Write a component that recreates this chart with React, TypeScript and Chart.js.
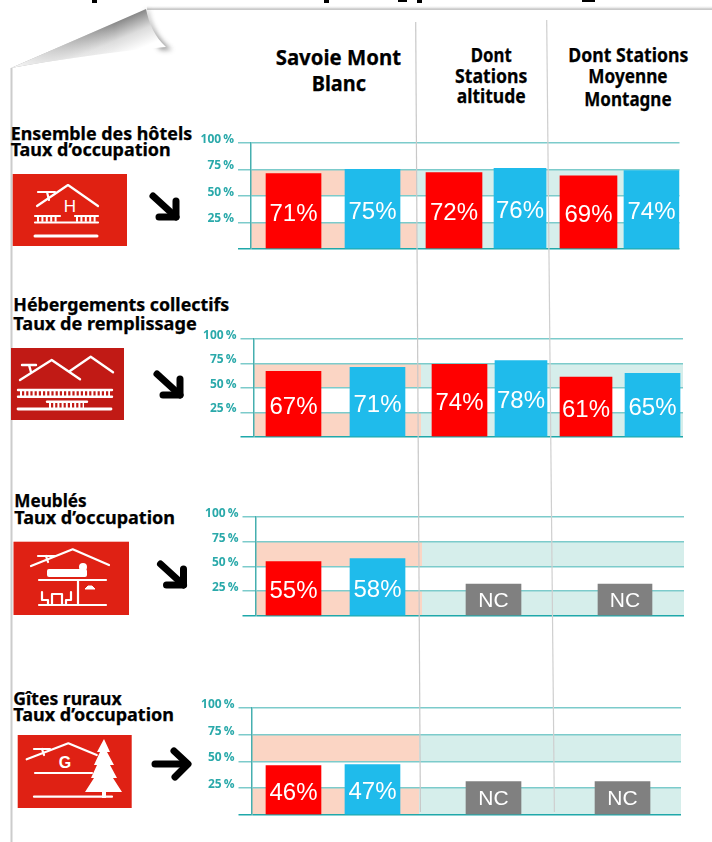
import React, { useEffect, useRef } from 'react';
import { Chart, registerables } from 'chart.js';

Chart.register(...registerables);

// ---------- data ----------
const categories = ['Savoie Mont Blanc', 'Dont Stations altitude', 'Dont Stations Moyenne Montagne'];
const yTickValues = [0, 25, 50, 75, 100];
const ncLabel = 'NC';

const hotelsRed = [71, 72, 69];
const hotelsBlue = [75, 76, 74];
const collectifsRed = [67, 74, 61];
const collectifsBlue = [71, 78, 65];
const meublesRed = [55, null, null];
const meublesBlue = [58, null, null];
const meublesNC = [null, 32, 32];
const gitesRed = [46, null, null];
const gitesBlue = [47, null, null];
const gitesNC = [null, 31, 31];

// ---------- style ----------
const RED = '#FF0000';
const BLUE = '#1FBBEB';
const GREY = '#808080';
const PEACH = '#FBD5C4';
const MINT = '#D6EEEB';
const GRID = '#7CCBCB';
const AXIS = '#1FA8AA';
const TICK_TEXT = '#2AA9AA';
const TITLE_FONT = '"Noto Sans", sans-serif';
const BAR_FONT = '"Liberation Sans", Arial, sans-serif';

type Panel = {
  red: (number | null)[];
  blue: (number | null)[];
  nc?: (number | null)[];
  box: { left: number; top: number; width: number; height: number };
  pad: { top: number; right: number; bottom: number };
  axisWidth: number;
  peachWidth: number;
  redNudge: (number | null)[];
  redWidth: (number | null)[];
  blueNudge: (number | null)[];
  blueWidth: (number | null)[];
  ncNudge?: (number | null)[];
  ncWidth?: (number | null)[];
};

const panels: Panel[] = [
  {
    red: hotelsRed, blue: hotelsBlue,
    box: { left: 190, top: 125, width: 500, height: 135 },
    pad: { top: 18, right: 10.5, bottom: 11 }, axisWidth: 61, peachWidth: 166,
    redNudge: [-28.9, -11.25, -19.6], redWidth: [55, 56, 57],
    blueNudge: [50.1, 54.75, 43.4], blueWidth: [55, 52, 55],
  },
  {
    red: collectifsRed, blue: collectifsBlue,
    box: { left: 190, top: 320, width: 500, height: 128 },
    pad: { top: 19, right: 7, bottom: 11 }, axisWidth: 63.5, peachWidth: 167.5,
    redNudge: [-31.6, -8.75, -25.4], redWidth: [55, 55, 52],
    blueNudge: [52.4, 52.75, 41.1], blueWidth: [55, 52, 55],
  },
  {
    red: meublesRed, blue: meublesBlue, nc: meublesNC,
    box: { left: 190, top: 500, width: 500, height: 127 },
    pad: { top: 17, right: 6, bottom: 11 }, axisWidth: 65.5, peachWidth: 166.5,
    redNudge: [-33.4, null, null], redWidth: [55, null, null],
    blueNudge: [50.6, null, null], blueWidth: [55, null, null],
    ncNudge: [null, 23.75, 12.4], ncWidth: [null, 55, 54],
  },
  {
    red: gitesRed, blue: gitesBlue, nc: gitesNC,
    box: { left: 190, top: 690, width: 500, height: 136 },
    pad: { top: 18, right: 9, bottom: 11 }, axisWidth: 61.5, peachWidth: 167.5,
    redNudge: [-29.6, null, null], redWidth: [55, null, null],
    blueNudge: [49.4, null, null], blueWidth: [55, null, null],
    ncNudge: [null, 27.25, 13.1], ncWidth: [null, 55, 55],
  },
];

// ---------- chart ----------
function PanelChart({ panel }: { panel: Panel }) {
  const ref = useRef<HTMLCanvasElement | null>(null);
  useEffect(() => {
    if (!ref.current) return;

    const placement = {
      id: 'placement',
      afterDatasetsUpdate(chart: any) {
        chart.data.datasets.forEach((ds: any, i: number) => {
          const meta = chart.getDatasetMeta(i);
          meta.data.forEach((el: any, j: number) => {
            const n = ds.nudge[j];
            if (n != null) {
              el.x += n;
              el.width = ds.widths[j];
            }
          });
        });
      },
    };

    const bands = {
      id: 'bands',
      beforeDraw(chart: any) {
        const { ctx, chartArea: a, scales } = chart;
        const y = scales.y;
        const split = a.left + panel.peachWidth;
        [[50, 75], [0, 25]].forEach(([lo, hi]) => {
          const t = y.getPixelForValue(hi);
          const b = y.getPixelForValue(lo);
          ctx.fillStyle = PEACH;
          ctx.fillRect(a.left, t, split - a.left, b - t);
          ctx.fillStyle = MINT;
          ctx.fillRect(split, t, a.right - split, b - t);
        });
      },
    };

    const valueLabels = {
      id: 'valueLabels',
      afterDatasetsDraw(chart: any) {
        const { ctx } = chart;
        ctx.save();
        ctx.textAlign = 'center';
        ctx.textBaseline = 'middle';
        ctx.fillStyle = '#FFFFFF';
        chart.data.datasets.forEach((ds: any, i: number) => {
          chart.getDatasetMeta(i).data.forEach((el: any, j: number) => {
            const v = ds.data[j];
            if (v == null) return;
            const isNC = ds.label === ncLabel;
            ctx.font = `${isNC ? 21 : 24}px ${BAR_FONT}`;
            ctx.fillText(isNC ? ncLabel : `${v}%`, el.x, (el.y + el.base) / 2 + (isNC ? 1.5 : 3.5));
          });
        });
        ctx.restore();
      },
    };

    const datasets: any[] = [
      { label: 'Rouge', data: panel.red, backgroundColor: RED, nudge: panel.redNudge, widths: panel.redWidth, grouped: false, barThickness: 55 },
      { label: 'Bleu', data: panel.blue, backgroundColor: BLUE, nudge: panel.blueNudge, widths: panel.blueWidth, grouped: false, barThickness: 55 },
    ];
    if (panel.nc) {
      datasets.push({ label: ncLabel, data: panel.nc, backgroundColor: GREY, nudge: panel.ncNudge, widths: panel.ncWidth, grouped: false, barThickness: 55 });
    }

    const chart = new Chart(ref.current, {
      type: 'bar',
      data: { labels: categories, datasets },
      plugins: [placement, bands, valueLabels],
      options: {
        animation: false,
        responsive: false,
        devicePixelRatio: 1,
        layout: { padding: { left: 0, ...panel.pad } },
        plugins: { legend: { display: false }, tooltip: { enabled: false }, title: { display: false } },
        scales: {
          x: { display: false },
          y: {
            min: 0,
            max: 100,
            afterBuildTicks: (s: any) => { s.ticks = yTickValues.map((value) => ({ value })); },
            afterFit: (s: any) => { s.width = panel.axisWidth; },
            border: { display: true, color: '#45AFAF', width: 1.5 },
            grid: {
              color: (c: any) => (c.tick && c.tick.value === 0 ? AXIS : GRID),
              lineWidth: 1.5,
              tickLength: 13,
              tickColor: (c: any) => (c.tick && c.tick.value === 0 ? AXIS : GRID),
            },
            ticks: {
              color: TICK_TEXT,
              font: { family: '"Open Sans", sans-serif', size: 12, weight: 'bold' },
              padding: 4,
              labelOffset: -3.5,
              autoSkip: false,
              callback: (v: any) => (v === 0 ? '' : `${v}\u2009%`),
            },
          },
        },
      } as any,
    });
    return () => chart.destroy();
  }, [panel]);

  const { left, top, width, height } = panel.box;
  return (
    <canvas
      ref={ref}
      width={width}
      height={height}
      style={{ position: 'absolute', left, top, width, height, display: 'block' }}
    />
  );
}

// ---------- text ----------
function T({ x, y, w, size, children, anchor }: any) {
  return (
    <text
      x={x}
      y={y}
      fontFamily={TITLE_FONT}
      fontWeight={700}
      fontSize={size}
      fill="#000"
      stroke="#000"
      strokeWidth={0.25}
      textLength={w}
      lengthAdjust="spacingAndGlyphs"
      textAnchor={anchor || 'start'}
    >
      {children}
    </text>
  );
}

const W = { stroke: '#fff', fill: 'none', strokeLinecap: 'round', strokeLinejoin: 'round' } as any;

function ArrowDiag({ x, y }: { x: number; y: number }) {
  return (
    <g stroke="#000" strokeWidth={7} fill="none" strokeLinecap="round" strokeLinejoin="round">
      <path d={`M${x} ${y}L${x + 23} ${y + 21}`} />
      <path d={`M${x + 23} ${y + 5}V${y + 21}H${x + 6}`} />
    </g>
  );
}

function Background() {
  return (
    <svg width={712} height={842} style={{ position: 'absolute', left: 0, top: 0 }}>
      <defs>
        <linearGradient id="curl" gradientUnits="userSpaceOnUse" x1="124" y1="19" x2="137" y2="50">
          <stop offset="0" stopColor="#8a8a8a" />
          <stop offset="0.5" stopColor="#dcdcdc" />
          <stop offset="1" stopColor="#ffffff" />
        </linearGradient>
        <linearGradient id="curlFade" gradientUnits="userSpaceOnUse" x1="11" y1="0" x2="115" y2="0">
          <stop offset="0" stopColor="#ffffff" stopOpacity={0.95} />
          <stop offset="1" stopColor="#ffffff" stopOpacity={0} />
        </linearGradient>
        <linearGradient id="topEdge" x1="0" y1="0" x2="0" y2="1">
          <stop offset="0" stopColor="#ffffff" />
          <stop offset="1" stopColor="#d8d8d8" />
        </linearGradient>
        <filter id="soft" x="-30%" y="-30%" width="160%" height="160%">
          <feGaussianBlur stdDeviation="2.5" />
        </filter>
      </defs>

      {/* remains of a cut-off heading */}
      <g fill="#000">
        <rect x={92} y={0} width={5} height={3} />
        <rect x={324} y={0} width={5} height={3} />
        <rect x={398} y={0} width={9} height={2} />
        <rect x={417} y={0} width={5} height={3} />
        <rect x={582} y={0} width={13} height={2} />
      </g>

      {/* sheet edges */}
      <rect x={147} y={6} width={565} height={3} fill="url(#topEdge)" />
      <rect x={147} y={8.5} width={565} height={1.5} fill="#C9C9C9" />
      <rect x={10.5} y={68} width={2} height={774} fill="#CCCCCC" />

      {/* curled corner */}
      <path d="M148 10 C150 24 157 38 172 50 L160 50 C152 36 148 24 146 10 Z" fill="#777" filter="url(#soft)" opacity={0.75} />
      <path d="M11 68 L146 9 C149 24 155 37 166 47 C110 52 55 60 11 68 Z" fill="url(#curl)" />
      <path d="M11 68 L146 9 C149 24 155 37 166 47 C110 52 55 60 11 68 Z" fill="url(#curlFade)" />

      {/* headers */}
      <T x={275.7} y={65} w={125.3} size={21}>Savoie Mont</T>
      <T x={311.7} y={90.7} w={54.3} size={21}>Blanc</T>
      <T x={470.7} y={61.7} w={41} size={19}>Dont</T>
      <T x={455} y={83.3} w={72.3} size={19}>Stations</T>
      <T x={456.7} y={103.3} w={69} size={19}>altitude</T>
      <T x={568.3} y={61.7} w={120} size={19}>Dont Stations</T>
      <T x={588.3} y={83.3} w={79.3} size={19}>Moyenne</T>
      <T x={584.3} y={105.5} w={87.3} size={19}>Montagne</T>

      {/* section titles */}
      <T x={10.7} y={139.5} w={181.5} size={18}>Ensemble des hôtels</T>
      <T x={10.7} y={156} w={160} size={18}>Taux d’occupation</T>
      <T x={13.3} y={311} w={216} size={18}>Hébergements collectifs</T>
      <T x={13.3} y={330} w={183.4} size={18}>Taux de remplissage</T>
      <T x={14.3} y={506.7} w={72.4} size={18}>Meublés</T>
      <T x={14.3} y={524} w={160.7} size={18}>Taux d’occupation</T>
      <T x={13.3} y={705} w={108.4} size={18}>Gîtes ruraux</T>
      <T x={13.3} y={720.7} w={160.7} size={18}>Taux d’occupation</T>

      {/* icon 1: hotel */}
      <rect x={12.7} y={174} width={114.3} height={72} fill="#E02112" />
      <g {...W} strokeWidth={2.2}>
        <path d="M37 206 L68 185 L98 206" />
        <path d="M38 192 H55 M47 192 L49 200" />
        <path d="M35 216 H60 M75 216 H98 M35 222.5 H98" />
        <path d="M35 236 H97" strokeWidth={3} />
      </g>
      <path d="M37 219.2 H59 M76 219.2 H97" stroke="#fff" strokeWidth={5} strokeDasharray="2 2.4" />
      <text x={70} y={212} textAnchor="middle" fontFamily={BAR_FONT} fontSize={17} fill="#fff">H</text>

      {/* icon 2: collective lodging */}
      <rect x={11} y={348} width={113} height={72} fill="#C11A15" />
      <g {...W} strokeWidth={2.4}>
        <path d="M20 380 L51.7 360 L80 379.3" />
        <path d="M70 371 L90.7 356.7 L113 372.3" />
        <path d="M22 365 H36 M29 365 L31 372" />
        <path d="M18 390 H112 M18 396.7 H112" />
        <path d="M47 401.7 H87" />
        <path d="M18 409 H111" strokeWidth={2.8} />
      </g>
      <path d="M20 393.4 H110" stroke="#fff" strokeWidth={5} strokeDasharray="2 2.2" />
      <path d="M49 405.4 H84" stroke="#fff" strokeWidth={5.5} strokeDasharray="2 2.2" />

      {/* icon 3: furnished rental */}
      <rect x={13.5} y={541.7} width={115.5} height={73.3} fill="#DF2114" />
      <g {...W} strokeWidth={2.2}>
        <path d="M31 566 L72.7 549.3 L109 565" />
        <path d="M38 556 H55 M46 556 L48 562" />
        <path d="M39 580 H106 M78 580 V605 M39 605 H106" />
        <path d="M42 592 V600 H48 V605 M52 605 V594 H62 V605 M66 605 V600 H71 V592" />
      </g>
      <rect x={47} y={569} width={40} height={8} rx={2} fill="#fff" />
      <circle cx={83} cy={567} r={4} fill="#fff" />
      <path d="M85 589 h10 l-3 -3 h-4 z" fill="#fff" stroke="#fff" />

      {/* icon 4: rural cottage */}
      <rect x={17.7} y={735} width={114} height={73} fill="#DF2114" />
      <g {...W} strokeWidth={2.2}>
        <path d="M26.7 759.3 L68.3 743.3 L96.7 755" />
        <path d="M34 749 H50 M42 749 L44 755" />
        <path d="M35 773 H92" />
        <path d="M34 796.7 H112" />
      </g>
      <text x={65} y={768} textAnchor="middle" fontFamily={BAR_FONT} fontWeight={700} fontSize={16} fill="#fff">G</text>
      <path
        d="M104 739 L110 752 L107 752 L114 765 L110 765 L117 778 L113 778 L122 792 L106 792 L106 798 L102 798 L102 792 L85 792 L94 778 L91 778 L97 765 L94 765 L100 752 L97 752 Z"
        fill="#fff"
      />

      {/* arrows */}
      <ArrowDiag x={153} y={196} />
      <ArrowDiag x={157} y={374} />
      <ArrowDiag x={160.5} y={564} />
      <g stroke="#000" strokeWidth={7} fill="none" strokeLinecap="round" strokeLinejoin="round">
        <path d="M155 764 H187" />
        <path d="M174 751 L188 764 L175 777" />
      </g>
    </svg>
  );
}

function Separators() {
  return (
    <svg width={712} height={842} style={{ position: 'absolute', left: 0, top: 0, pointerEvents: 'none' }}>
      <path d="M415.7 22 L420.4 812" stroke="#C8C8C8" strokeWidth={1.2} />
      <path d="M546.7 20 L554.4 812" stroke="#CFCFCF" strokeWidth={1.2} />
    </svg>
  );
}

export default function App() {
  return (
    <div style={{ position: 'absolute', left: 0, top: 0, width: 712, height: 842, overflow: 'hidden', background: '#fff' }}>
      <Background />
      {panels.map((p, i) => (
        <PanelChart key={i} panel={p} />
      ))}
      <Separators />
    </div>
  );
}
